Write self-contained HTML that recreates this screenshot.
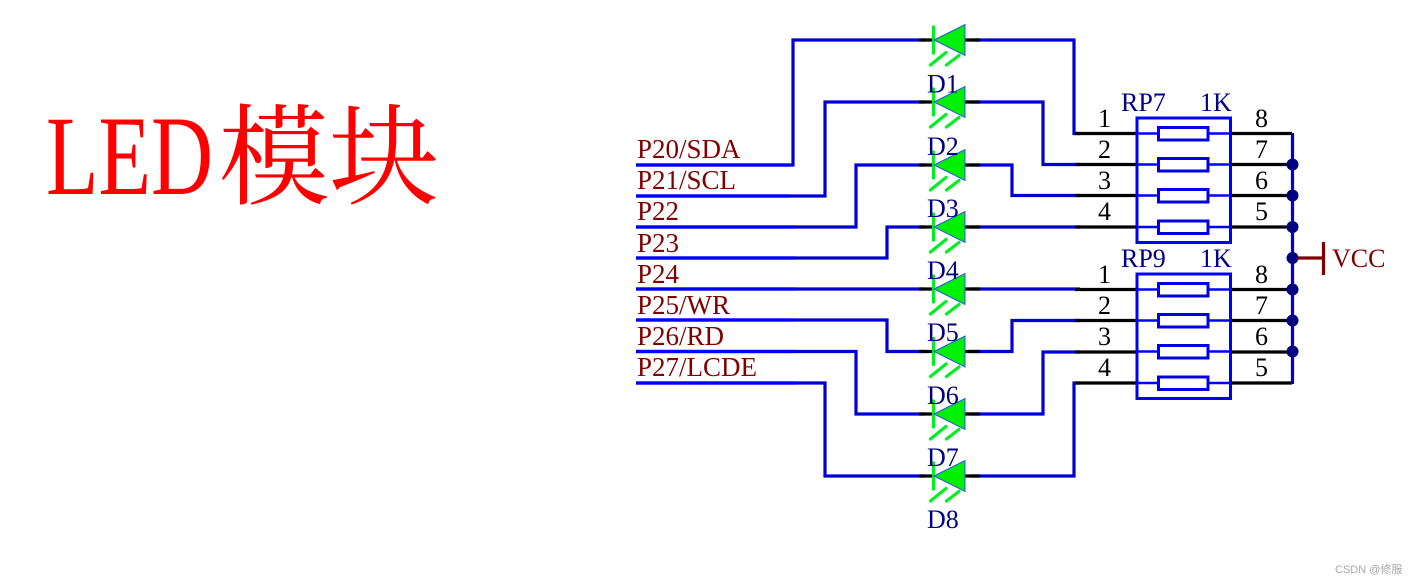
<!DOCTYPE html>
<html><head><meta charset="utf-8"><style>
html,body{margin:0;padding:0;background:#fff;width:1418px;height:584px;overflow:hidden}
svg{display:block}
text{font-family:"Liberation Serif","Noto Serif CJK SC",serif;font-size:26px}
.n{fill:#000080}.r{fill:#800000}.k{fill:#000}
.p text{font-size:27px}
</style></head><body>
<svg width="1418" height="584" viewBox="0 0 1418 584" xmlns="http://www.w3.org/2000/svg">
<rect width="1418" height="584" fill="#fff"/>
<text x="46" y="194" textLength="167" lengthAdjust="spacingAndGlyphs" style="font-size:113px" fill="#f00">LED</text>
<text x="219" y="196" style="font-family:'Noto Serif CJK SC',serif;font-size:110px" fill="#f00">模块</text>

<g fill="none" stroke="#0000d0" stroke-width="3.2">
<path d="M636 165H793V40H925M970 40H1074V133.5H1080"/>
<path d="M636 196H825V102H925M970 102H1043V164.5H1080"/>
<path d="M636 227H856V165H925M970 165H1012V195.5H1080"/>
<path d="M636 258H887V227H925M970 227H1080"/>
<path d="M636 289H925M970 289H1080"/>
<path d="M636 320H887V351.5H925M970 351.5H1012V320.5H1080"/>
<path d="M636 351.5H856V414H925M970 414H1043V352H1080"/>
<path d="M636 383H825V476H925M970 476H1074V383H1080"/>
</g>
<g fill="none" stroke="#0000ff" stroke-width="3.2">
<path d="M636 165H790M636 196H790M636 227H795M636 258H795M636 289H795M636 320H795M636 351.5H795M636 383H795"/>
</g>
<g fill="none" stroke="#000" stroke-width="3.2">
<path d="M919 40H934M965 40H980M919 102H934M965 102H980M919 165H934M965 165H980M919 227H934M965 227H980M919 289H934M965 289H980M919 351.5H934M965 351.5H980M919 414H934M965 414H980M919 476H934M965 476H980"/>
<path d="M1075 133.5H1137M1075 164.5H1137M1075 195.5H1137M1075 227H1137M1075 289.5H1137M1075 320.5H1137M1075 352H1137M1075 383H1137"/>
<path d="M1230 133.5H1292M1230 164.5H1292M1230 195.5H1292M1230 227H1292M1230 289.5H1292M1230 320.5H1292M1230 352H1292M1230 383H1292"/>
</g>

<defs>
<g id="d">
<path d="M933.5 27V53" stroke="#00ee22" stroke-width="3.2" stroke-linecap="round" fill="none"/>
<path d="M934 40L965 24.5V55.5Z" fill="#00f000" stroke="#3050f0" stroke-width="1"/>
<path d="M930.5 65L946 52.5M946.5 65L959 55.5" stroke="#00ee22" stroke-width="3.2" stroke-linecap="round" fill="none"/>
</g>
<g id="rp">
<rect x="1137" y="118" width="93.5" height="124.5" fill="none" stroke="#0000ff" stroke-width="3"/>
<path d="M1137 133.5H1158M1208 133.5H1230M1137 164.5H1158M1208 164.5H1230M1137 195.5H1158M1208 195.5H1230M1137 227H1158M1208 227H1230" stroke="#0000ff" stroke-width="2.4" fill="none"/>
<g fill="#fff" stroke="#0000e0" stroke-width="3">
<rect x="1158.5" y="127.5" width="49.5" height="12.5"/>
<rect x="1158.5" y="158.5" width="49.5" height="12.5"/>
<rect x="1158.5" y="189.5" width="49.5" height="12.5"/>
<rect x="1158.5" y="221" width="49.5" height="12.5"/>
</g>
</g>
</defs>
<use href="#d"/>
<use href="#d" y="62"/>
<use href="#d" y="125"/>
<use href="#d" y="187"/>
<use href="#d" y="249"/>
<use href="#d" y="311.5"/>
<use href="#d" y="374"/>
<use href="#d" y="436"/>
<use href="#rp"/>
<use href="#rp" y="156"/>

<path d="M1292.5 133V384" stroke="#0000d0" stroke-width="3.2" fill="none"/>
<g fill="#000080">
<circle cx="1292.5" cy="164.5" r="6"/><circle cx="1292.5" cy="195.5" r="6"/><circle cx="1292.5" cy="227" r="6"/><circle cx="1292.5" cy="258" r="6"/><circle cx="1292.5" cy="289.5" r="6"/><circle cx="1292.5" cy="320.5" r="6"/><circle cx="1292.5" cy="351.5" r="6"/>
</g>
<path d="M1298 258H1323M1323.5 242V275" stroke="#800000" stroke-width="3.2" fill="none"/>

<g class="r p">
<text x="637" y="158">P20/SDA</text>
<text x="637" y="189">P21/SCL</text>
<text x="637" y="220">P22</text>
<text x="637" y="252">P23</text>
<text x="637" y="283">P24</text>
<text x="637" y="314">P25/WR</text>
<text x="637" y="345">P26/RD</text>
<text x="637" y="376">P27/LCDE</text>
</g>
<text class="r" x="1332" y="267">VCC</text>
<g class="n">
<text x="927" y="92.5">D1</text>
<text x="927" y="155">D2</text>
<text x="927" y="217">D3</text>
<text x="927" y="279">D4</text>
<text x="927" y="341">D5</text>
<text x="927" y="404">D6</text>
<text x="927" y="466">D7</text>
<text x="927" y="528">D8</text>
<text x="1121" y="111">RP7</text>
<text x="1200" y="111">1K</text>
<text x="1121" y="267">RP9</text>
<text x="1200" y="267">1K</text>
</g>
<g class="k">
<text x="1098" y="127">1</text><text x="1098" y="158">2</text><text x="1098" y="189">3</text><text x="1098" y="220">4</text>
<text x="1255" y="127">8</text><text x="1255" y="158">7</text><text x="1255" y="189">6</text><text x="1255" y="220">5</text>
<text x="1098" y="283">1</text><text x="1098" y="314">2</text><text x="1098" y="345">3</text><text x="1098" y="376">4</text>
<text x="1255" y="283">8</text><text x="1255" y="314">7</text><text x="1255" y="345">6</text><text x="1255" y="376">5</text>
</g>
<text x="1335" y="573" style="font-family:'Liberation Sans','Noto Sans CJK SC',sans-serif;font-size:11px" fill="#a8a8a8">CSDN @修服</text>
</svg>
</body></html>
